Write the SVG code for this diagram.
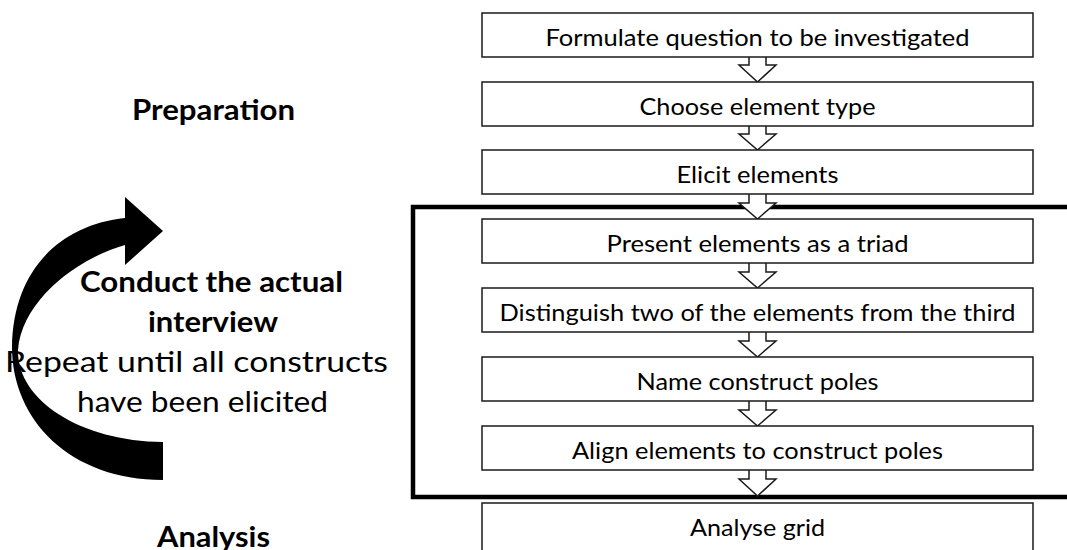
<svg xmlns="http://www.w3.org/2000/svg" width="1067" height="550" viewBox="0 0 1067 550">
<style>
.box{fill:#fff;stroke:#1a1a1a;stroke-width:1.5}
.arr{fill:#fff;stroke:#1a1a1a;stroke-width:1.5;stroke-linejoin:miter}
.bt{font-family:Lato,"Liberation Sans",sans-serif;font-size:24px;fill:#000;text-anchor:middle}
.lb{font-family:Lato,"Liberation Sans",sans-serif;font-size:29px;font-weight:bold;fill:#000}
.lr{font-family:Lato,"Liberation Sans",sans-serif;font-size:29px;fill:#000}
</style>
<rect width="1067" height="550" fill="#fff"/>
<g id="loop-frame">
<rect x="413" y="207" width="670" height="290" fill="none" stroke="#000" stroke-width="4.5"/>
</g>
<g id="curved-arrow">
<path d="M163 480 C70 480 12 420 12 347 C13 270 60 225 125 218 L125 197 L163 231 L125 265 L125 245 C78 258 22 300 18 350 C17 400 80 441 163 442 Z" fill="#000"/>
</g>
<g id="labels">
<text class="lb" x="132" y="120" textLength="163" lengthAdjust="spacingAndGlyphs">Preparation</text>
<text class="lb" x="80" y="292" textLength="263" lengthAdjust="spacingAndGlyphs">Conduct the actual</text>
<text class="lb" x="148" y="332" textLength="130" lengthAdjust="spacingAndGlyphs">interview</text>
<text class="lr" x="5" y="372" textLength="383" lengthAdjust="spacingAndGlyphs">Repeat until all constructs</text>
<text class="lr" x="77" y="412" textLength="251" lengthAdjust="spacingAndGlyphs">have been elicited</text>
<text class="lb" x="157" y="547" textLength="113" lengthAdjust="spacingAndGlyphs">Analysis</text>
</g>
<g id="connectors">
<path class="arr" d="M749 57 V65 H739 L757.5 82 L776 65 H766 V57"/>
<path class="arr" d="M749 126 V134 H739 L757.5 150 L776 134 H766 V126"/>
<path class="arr" d="M749 194 V203 H739 L757.5 219 L776 203 H766 V194"/>
<path class="arr" d="M749 263 V272 H739 L757.5 288 L776 272 H766 V263"/>
<path class="arr" d="M749 332 V341 H739 L757.5 357 L776 341 H766 V332"/>
<path class="arr" d="M749 401 V410 H739 L757.5 426 L776 410 H766 V401"/>
<path class="arr" d="M749 470 V479 H739 L757.5 496 L776 479 H766 V470"/>
</g>
<g id="n1"><rect class="box" x="482" y="13" width="551" height="44"/><text class="bt" x="757.5" y="46" textLength="424" lengthAdjust="spacingAndGlyphs">Formulate question to be investigated</text></g>
<g id="n2"><rect class="box" x="482" y="82" width="551" height="44"/><text class="bt" x="757.5" y="115" textLength="236" lengthAdjust="spacingAndGlyphs">Choose element type</text></g>
<g id="n3"><rect class="box" x="482" y="150" width="551" height="44"/><text class="bt" x="757.5" y="183" textLength="162" lengthAdjust="spacingAndGlyphs">Elicit elements</text></g>
<g id="n4"><rect class="box" x="482" y="219" width="551" height="44"/><text class="bt" x="757.5" y="252" textLength="302" lengthAdjust="spacingAndGlyphs">Present elements as a triad</text></g>
<g id="n5"><rect class="box" x="482" y="288" width="551" height="44"/><text class="bt" x="757.5" y="321" textLength="516" lengthAdjust="spacingAndGlyphs">Distinguish two of the elements from the third</text></g>
<g id="n6"><rect class="box" x="482" y="357" width="551" height="44"/><text class="bt" x="757.5" y="390" textLength="242" lengthAdjust="spacingAndGlyphs">Name construct poles</text></g>
<g id="n7"><rect class="box" x="482" y="426" width="551" height="44"/><text class="bt" x="757.5" y="459" textLength="371" lengthAdjust="spacingAndGlyphs">Align elements to construct poles</text></g>
<g id="n8"><rect class="box" x="482" y="503" width="551" height="50"/><text class="bt" x="757.5" y="536" textLength="135" lengthAdjust="spacingAndGlyphs">Analyse grid</text></g>
</svg>
